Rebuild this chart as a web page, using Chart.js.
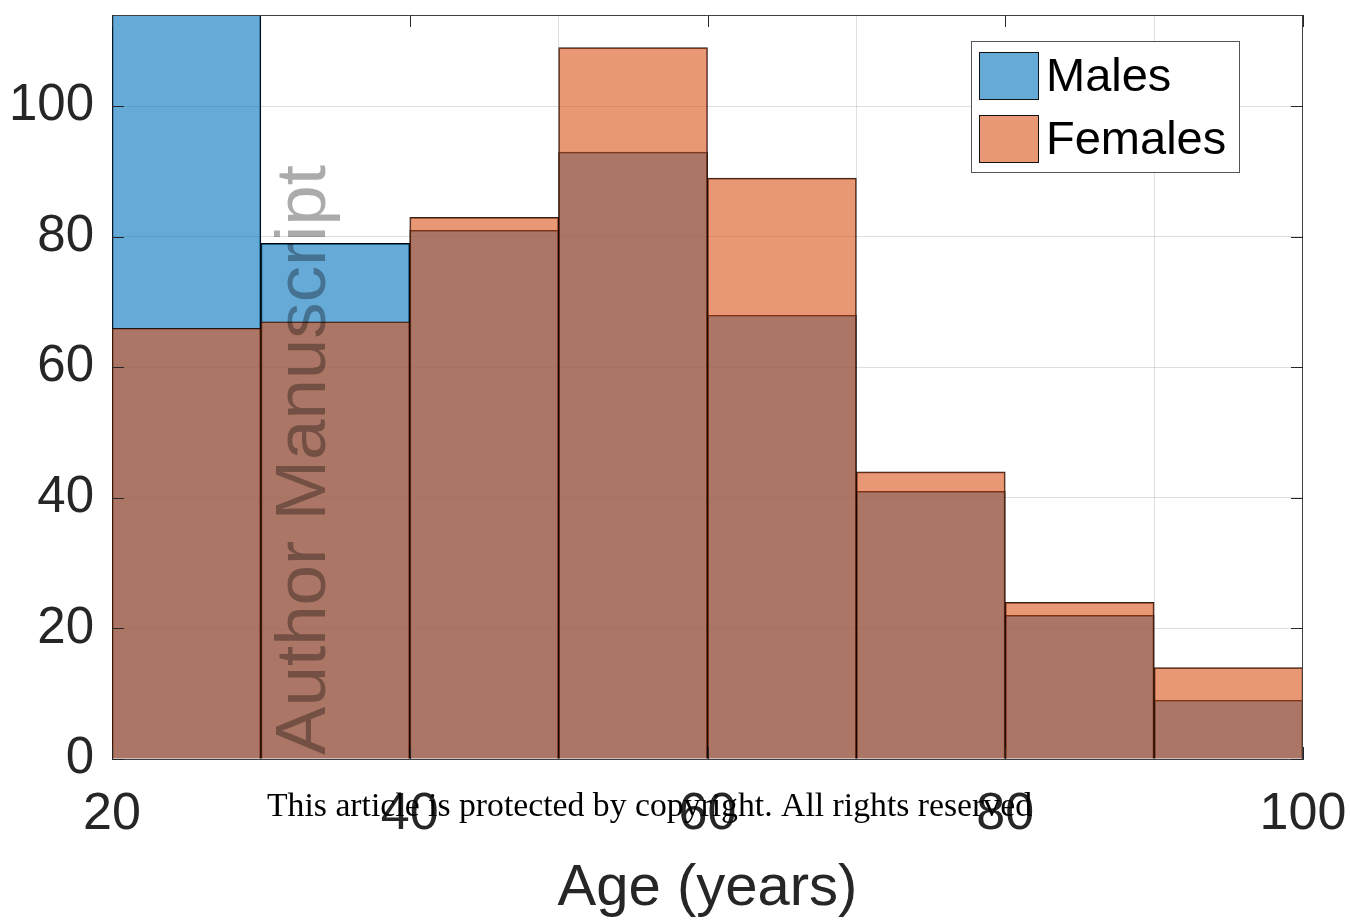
<!DOCTYPE html>
<html>
<head>
<meta charset="utf-8">
<script src="https://cdn.jsdelivr.net/npm/chart.js@4/dist/chart.umd.min.js"></script>
<style>
html,body{margin:0;padding:0;background:#fff;}
#wrap{width:1350px;height:924px;}
</style>
</head>
<body>
<div id="wrap"><canvas id="c" width="1350" height="924"></canvas></div>
<script>
const binCenters = [25, 35, 45, 55, 65, 75, 85, 95];
const males   = [116, 79, 81, 93, 68, 41, 22, 9];
const females = [66, 67, 83, 109, 89, 44, 24, 14];
const xTicks = [20, 40, 60, 80, 100];
const yTicks = [0, 20, 40, 60, 80, 100];
const seriesNames = ['Males', 'Females'];
const xTitle = 'Age (years)';
const watermark = 'Author Manuscript';
const copyright = 'This article is protected by copyright. All rights reserved';

const toPts = arr => arr.map((v, i) => ({x: binCenters[i], y: v}));
const TXT = '#262626';
const FONT = '"Liberation Sans", Arial, sans-serif';

const overlay = {
  id: 'overlay',
  afterDraw(chart) {
    const ctx = chart.ctx;
    const a = chart.chartArea;
    const xs = chart.scales.x, ys = chart.scales.y;
    ctx.save();
    // box top/right
    ctx.strokeStyle = '#404040';
    ctx.lineWidth = 1;
    ctx.beginPath();
    ctx.moveTo(a.left, a.top + 0.5); ctx.lineTo(a.right, a.top + 0.5);
    ctx.moveTo(a.right - 0.5, a.top); ctx.lineTo(a.right - 0.5, a.bottom);
    ctx.stroke();
    // inward tick marks
    const tl = 12;
    ctx.strokeStyle = '#262626';
    ctx.beginPath();
    yTicks.forEach(v => {
      const y = Math.round(ys.getPixelForValue(v)) + 0.5;
      ctx.moveTo(a.left, y); ctx.lineTo(a.left + tl, y);
      ctx.moveTo(a.right, y); ctx.lineTo(a.right - tl, y);
    });
    xTicks.forEach(v => {
      const x = Math.round(xs.getPixelForValue(v)) + 0.5;
      ctx.moveTo(x, a.bottom); ctx.lineTo(x, a.bottom - tl);
      ctx.moveTo(x, a.top); ctx.lineTo(x, a.top + tl);
    });
    ctx.stroke();

    // legend
    const lx = 971, ly = 41, lw = 268, lh = 131;
    ctx.fillStyle = '#fff';
    ctx.fillRect(lx, ly, lw, lh);
    ctx.strokeStyle = '#555';
    ctx.strokeRect(lx + 0.5, ly + 0.5, lw, lh);
    const rows = [52, 115];
    ctx.font = '47px ' + FONT;
    ctx.textBaseline = 'middle';
    ctx.textAlign = 'left';
    chart.data.datasets.forEach((ds, i) => {
      const y = rows[i];
      ctx.fillStyle = ds.legendColor;
      ctx.fillRect(979, y, 59, 47);
      ctx.strokeStyle = '#111';
      ctx.strokeRect(979.5, y + 0.5, 59, 47);
      ctx.fillStyle = '#000';
      ctx.fillText(seriesNames[i], 1046, y + 26);
    });

    // vertical watermark
    ctx.save();
    ctx.translate(325, 755);
    ctx.rotate(-Math.PI / 2);
    ctx.font = '70px ' + FONT;
    ctx.textBaseline = 'alphabetic';
    ctx.textAlign = 'left';
    ctx.fillStyle = 'rgba(0,0,0,0.33)';
    const w = ctx.measureText(watermark).width;
    ctx.scale(590 / w, 1);
    ctx.fillText(watermark, 0, 0);
    ctx.restore();

    // copyright line
    ctx.save();
    ctx.font = '33px "Liberation Serif", "Times New Roman", serif';
    ctx.fillStyle = '#000';
    ctx.textBaseline = 'alphabetic';
    const cw = ctx.measureText(copyright).width;
    ctx.translate(267, 816);
    ctx.scale(765 / cw, 1);
    ctx.fillText(copyright, 0, 0);
    ctx.restore();

    ctx.restore();
  }
};

new Chart(document.getElementById('c'), {
  type: 'bar',
  data: {
    datasets: [
      {
        label: seriesNames[0],
        data: toPts(males),
        order: 2,
        backgroundColor: 'rgba(0,114,189,0.6)',
        legendColor: 'rgb(102,170,215)',
        borderColor: '#000',
        borderWidth: 1,
        borderSkipped: 'bottom'
      },
      {
        label: seriesNames[1],
        data: toPts(females),
        order: 1,
        backgroundColor: 'rgba(217,83,25,0.6)',
        legendColor: 'rgb(232,152,117)',
        borderColor: 'rgba(20,8,4,0.9)',
        borderWidth: 1,
        borderSkipped: 'bottom'
      }
    ]
  },
  options: {
    responsive: false,
    animation: false,
    devicePixelRatio: 1,
    grouped: false,
    barPercentage: 1,
    categoryPercentage: 1,
    layout: {padding: {top: 15, right: 47, left: 0, bottom: 0}},
    plugins: {legend: {display: false}, tooltip: {enabled: false}},
    scales: {
      x: {
        type: 'linear',
        min: 20, max: 100,
        offset: false,
        afterFit: s => { s.height = 165; s.paddingLeft = 0; s.paddingRight = 0; },
        afterBuildTicks: s => { s.ticks = xTicks.map(v => ({value: v})); },
        grid: {color: 'rgba(38,38,38,0.15)', drawTicks: false},
        border: {color: '#404040'},
        ticks: {font: {family: FONT, size: 52}, color: TXT, padding: 24, maxRotation: 0, autoSkip: false},
        title: {display: true, text: xTitle, font: {family: FONT, size: 58}, color: TXT, padding: {top: 0, bottom: 0}}
      },
      y: {
        min: 0, max: 114,
        afterFit: s => { s.width = 112; s.paddingTop = 0; s.paddingBottom = 0; },
        afterBuildTicks: s => { s.ticks = yTicks.map(v => ({value: v})); },
        grid: {color: 'rgba(38,38,38,0.15)', drawTicks: false},
        border: {color: '#404040'},
        ticks: {font: {family: FONT, size: 51}, color: TXT, padding: 18}
      }
    }
  },
  plugins: [overlay]
});
</script>
</body>
</html>
